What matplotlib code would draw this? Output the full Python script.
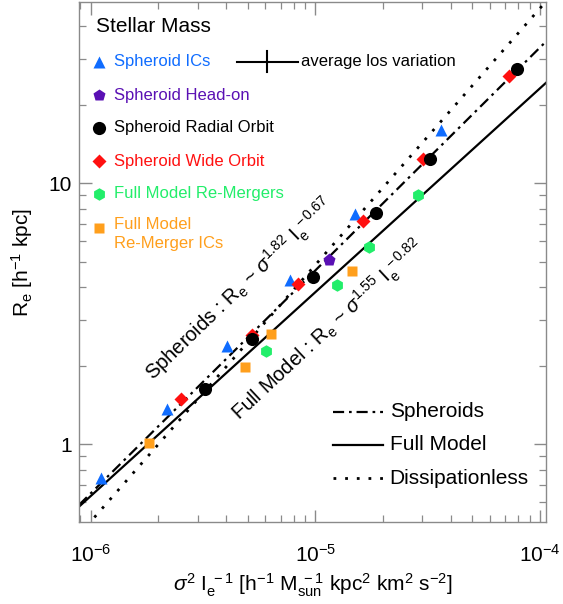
import numpy as np
import matplotlib
matplotlib.use("Agg")
import matplotlib.pyplot as plt
from matplotlib.ticker import LogLocator, NullFormatter, FixedFormatter, FixedLocator

plt.rcParams['font.family'] = ['Liberation Sans', 'DejaVu Sans']
plt.rcParams['mathtext.fontset'] = 'custom'
plt.rcParams['mathtext.rm'] = 'Liberation Sans'
plt.rcParams['mathtext.it'] = 'Liberation Sans:italic'
plt.rcParams['mathtext.bf'] = 'Liberation Sans:bold'

# ---------------- data ----------------
ics_x = [1.115e-6, 2.18e-6, 4.06e-6, 7.72e-6, 1.50e-5, 3.63e-5]
ics_y = [0.742, 1.368, 2.385, 4.27, 7.62, 16.0]
headon_x = [1.154e-5]
headon_y = [5.09]
radial_x = [3.22e-6, 5.21e-6, 9.80e-6, 1.858e-5, 3.24e-5, 7.93e-5]
radial_y = [1.627, 2.537, 4.37, 7.69, 12.41, 27.4]
wide_x = [2.516e-6, 5.24e-6, 8.35e-6, 1.636e-5, 3.007e-5, 7.26e-5]
wide_y = [1.497, 2.634, 4.11, 7.20, 12.38, 25.7]
remerg_x = [6.01e-6, 1.245e-5, 1.739e-5, 2.874e-5]
remerg_y = [2.288, 4.08, 5.73, 9.03]
remergic_x = [1.818e-6, 4.864e-6, 6.33e-6, 1.452e-5]
remergic_y = [1.01, 1.987, 2.651, 4.63]

# fits: R_e = norm * (x / 1e-5) ** slope
fit_labels = ['Spheroids', 'Full Model', 'Dissipationless']
fit_norm = [4.64, 3.83, 4.87]
fit_slope = [0.854, 0.781, 0.983]

los_dex_x = 0.136   # average line-of-sight variation (dex)
los_dex_y = 0.042

legend_labels = ['Spheroid ICs', 'Spheroid Head-on', 'Spheroid Radial Orbit',
                 'Spheroid Wide Orbit', 'Full Model Re-Mergers', 'Full Model\nRe-Merger ICs']

XLIM = (8.87e-7, 1.064e-4)
YLIM = (0.506, 49.4)

# ---------------- style ----------------
c_blue = '#0f6cff'
c_purple = '#5a10b4'
c_black = '#000000'
c_red = '#ff1010'
c_green = '#22ee6a'
c_orange = '#ff9f1c'
spine_col = '#8a8a8a'

fig = plt.figure(figsize=(5.63, 6.04), dpi=100)
ax = fig.add_axes([0.1403, 0.1363, 0.8295, 0.8599])
ax.set_xscale('log')
ax.set_yscale('log')
ax.set_xlim(*XLIM)
ax.set_ylim(*YLIM)

# fit lines
xx = np.logspace(np.log10(XLIM[0]), np.log10(XLIM[1]), 200)
styles = [dict(ls=(0, (5, 2.2, 1.2, 2.2)), lw=1.6),
          dict(ls='-', lw=1.6),
          dict(ls=(0, (1, 3.2)), lw=2.0)]
for n, s, st in zip(fit_norm, fit_slope, styles):
    ax.plot(xx, n * (xx / 1e-5) ** s, color='black', zorder=2, **st)

# points
ms = 9
ax.plot(ics_x, ics_y, '^', color=c_blue, ms=ms, mec='none', zorder=3)
ax.plot(wide_x, wide_y, 'D', color=c_red, ms=ms * 0.8, mec='none', zorder=3)
ax.plot(radial_x, radial_y, 'o', color=c_black, ms=ms * 1.05, mec='none', zorder=4)
ax.plot(headon_x, headon_y, 'p', color=c_purple, ms=ms * 1.05, mec='none', zorder=4)
ax.plot(remerg_x, remerg_y, 'h', color=c_green, ms=ms * 1.0, mec='none', zorder=4)
ax.plot(remergic_x, remergic_y, 's', color=c_orange, ms=ms * 0.78, mec='none', zorder=4)

# axes styling
for sp in ax.spines.values():
    sp.set_color(spine_col)
    sp.set_linewidth(1.0)
ax.tick_params(which='both', direction='in', top=True, right=True, color=spine_col)
ax.tick_params(which='major', length=9, width=1.0, labelsize=15)
ax.tick_params(which='minor', length=5, width=0.9)
ax.tick_params(axis='x', which='major', pad=16)
ax.tick_params(axis='y', which='major', pad=5)

ax.xaxis.set_major_locator(FixedLocator([1e-6, 1e-5, 1e-4]))
ax.xaxis.set_major_formatter(FixedFormatter([r'10$^{-6}$', r'10$^{-5}$', r'10$^{-4}$']))
ax.xaxis.set_minor_locator(LogLocator(base=10, subs=np.arange(2, 10)))
ax.xaxis.set_minor_formatter(NullFormatter())
ax.yaxis.set_major_locator(FixedLocator([1, 10]))
ax.yaxis.set_major_formatter(FixedFormatter(['1', '10']))
ax.yaxis.set_minor_locator(LogLocator(base=10, subs=np.arange(2, 10)))
ax.yaxis.set_minor_formatter(NullFormatter())

ax.set_xlabel(r'$\sigma^2$ I$_{\rm e}^{\ -1}$ [h$^{-1}$ M$_{\rm sun}^{\ -1}$ kpc$^{2}$ km$^{2}$ s$^{-2}$]', fontsize=15)
ax.set_ylabel(r'R$_{\rm e}$ [h$^{-1}$ kpc]', fontsize=15)
ax.xaxis.set_label_coords(0.5, -0.097)
ax.yaxis.set_label_coords(-0.094, 0.5)

# upper-left legend
T = ax.transAxes
ax.text(0.036, 0.953, 'Stellar Mass', transform=T, fontsize=15, va='center', ha='left')
leg_y = [0.8856, 0.8215, 0.7586, 0.6944, 0.6309, 0.566]
leg_mk = ['^', 'p', 'o', 'D', 'h', 's']
leg_col = [c_blue, c_purple, c_black, c_red, c_green, c_orange]
leg_ms = [8, 9, 9.5, 7.5, 9, 7]
for lab, yy, mk, col, m in zip(legend_labels, leg_y, leg_mk, leg_col, leg_ms):
    ax.plot([0.0428], [yy], mk, color=col, ms=m, mec='none', transform=T, clip_on=False)
    if '\n' in lab:
        ax.text(0.075, yy + 0.02, lab, transform=T, fontsize=12, color=col,
                va='top', ha='left', linespacing=1.3)
    else:
        ax.text(0.075, yy, lab, transform=T, fontsize=12, color=col,
                va='center', ha='left')

# average los variation cross
cx, cy = 0.4032, 0.886
xdec = np.log10(XLIM[1] / XLIM[0])
ydec = np.log10(YLIM[1] / YLIM[0])
hx = los_dex_x / xdec
hy = los_dex_y / ydec
ax.plot([cx - hx, cx + hx], [cy, cy], color='black', lw=1.5, transform=T)
ax.plot([cx, cx], [cy - hy, cy + hy], color='black', lw=1.5, transform=T)
ax.text(0.475, 0.8856, 'average los variation', transform=T, fontsize=12, va='center', ha='left')

# lower-right line legend
lr_y = [0.2118, 0.1477, 0.0836]
for lab, yy, st in zip(fit_labels, lr_y, styles):
    ax.plot([0.543, 0.650], [yy, yy], color='black', transform=T, **st)
    ax.text(0.665, yy, lab, transform=T, fontsize=15, va='center', ha='left')

# rotated fit annotations
ax.text(0.1606, 0.2709,
        r'Spheroids : R$_{\rm e}$ ~ $\sigma^{1.82}$ I$_{\rm e}^{\ -0.67}$',
        transform=T, fontsize=14.5, rotation=44, rotation_mode='anchor',
        ha='left', va='baseline')
ax.text(0.345, 0.194,
        r'Full Model : R$_{\rm e}$ ~ $\sigma^{1.55}$ I$_{\rm e}^{\ -0.82}$',
        transform=T, fontsize=14.5, rotation=43, rotation_mode='anchor',
        ha='left', va='baseline')

fig.savefig('out.png', dpi=100)
